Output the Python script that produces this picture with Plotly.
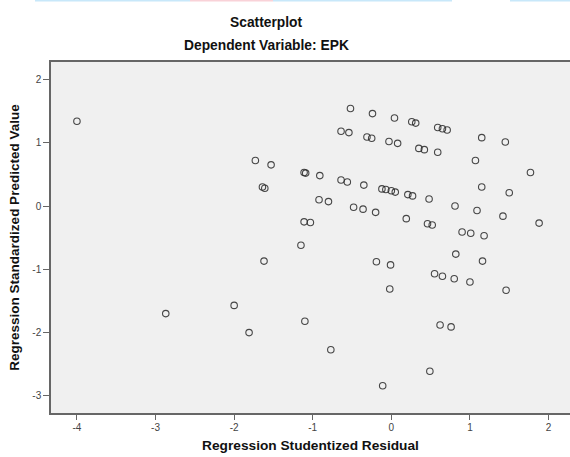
import plotly.graph_objects as go

# Data
residual = [-4.00, -0.52, -0.24, 0.04, 0.26, 0.31, 0.59, 0.65, 0.71, 1.15, 1.45,
            -0.64, -0.54, -0.31, -0.25, -0.03, 0.08, 0.35, 0.42, 0.59, 1.07,
            -1.73, -1.53, 1.77, -1.11, -1.09, -0.91, -0.64, -0.56, -0.35,
            -1.64, -1.61, 1.15, -0.12, -0.07, 0.00, 0.05, 1.50, 0.21, 0.27,
            0.48, -0.92, -0.80, 0.81, -0.48, -0.36, -0.20, 1.09, 1.42, 0.19,
            -1.11, -1.03, 0.46, 0.52, 1.88, 0.90, 1.01, 1.18, -1.15, 0.82,
            -1.62, -0.19, 1.16, -0.01, 0.55, 0.65, 0.80, 1.00, -0.02, 1.46,
            -2.00, -2.87, -1.10, 0.62, 0.76, -1.81, -0.77, 0.49, -0.11]
predicted = [1.34, 1.54, 1.46, 1.39, 1.33, 1.31, 1.24, 1.22, 1.20, 1.08, 1.01,
             1.18, 1.16, 1.09, 1.07, 1.02, 0.99, 0.91, 0.89, 0.85, 0.72,
             0.72, 0.65, 0.53, 0.53, 0.52, 0.48, 0.41, 0.38, 0.33,
             0.30, 0.28, 0.30, 0.27, 0.26, 0.24, 0.22, 0.21, 0.18, 0.16,
             0.11, 0.10, 0.07, 0.00, -0.02, -0.05, -0.10, -0.07, -0.16, -0.20,
             -0.25, -0.26, -0.28, -0.30, -0.27, -0.41, -0.43, -0.47, -0.62, -0.76,
             -0.87, -0.88, -0.87, -0.93, -1.07, -1.11, -1.15, -1.20, -1.31, -1.33,
             -1.57, -1.70, -1.82, -1.88, -1.91, -2.00, -2.27, -2.61, -2.84]

x_ticks = [-4, -3, -2, -1, 0, 1, 2]
x_tick_labels = ["-4", "-3", "-2", "-1", "0", "1", "2"]
y_ticks = [-3, -2, -1, 0, 1, 2]
y_tick_labels = ["-3", "-2", "-1", "0", "1", "2"]

FONT = "Liberation Sans, Arial, sans-serif"
AXIS_COLOR = "#666666"

fig = go.Figure()
fig.add_trace(go.Scatter(
    x=residual, y=predicted, mode="markers",
    marker=dict(symbol="circle-open", size=6.5,
                color="rgba(40,40,40,0.85)", line=dict(width=1.1)),
    hoverinfo="x+y", showlegend=False))

fig.update_layout(
    width=570, height=457,
    margin=dict(l=51, r=0, t=62, b=44),
    paper_bgcolor="white", plot_bgcolor="#f0f0f0",
    font=dict(family=FONT, color="#333333"),
    xaxis=dict(range=[-4.33, 2.273], tickvals=x_ticks, ticktext=x_tick_labels,
               showgrid=False, zeroline=False, showline=True, linecolor=AXIS_COLOR,
               linewidth=1.5, mirror=True, ticks="outside", ticklen=5,
               tickcolor=AXIS_COLOR, tickwidth=1, ticklabelstandoff=-1,
               tickfont=dict(size=10, color="#444444"),
               title=dict(text="<b>Regression Studentized Residual</b>",
                          font=dict(size=13.7, color="#111111"), standoff=9)),
    yaxis=dict(range=[-3.27, 2.275], tickvals=y_ticks, ticktext=y_tick_labels,
               showgrid=False, zeroline=False, showline=True, linecolor=AXIS_COLOR,
               linewidth=1.5, mirror=False, ticks="outside", ticklen=6,
               tickcolor=AXIS_COLOR, tickwidth=1,
               tickfont=dict(size=10, color="#444444"),
               title=dict(text="<b>Regression Standardized Predicted Value</b>",
                          font=dict(size=13.5, color="#111111"), standoff=10)),
    annotations=[
        dict(text="<b>Scatterplot</b>", xref="paper", yref="paper",
             x=(266 - 51) / 519, y=1 + (62 - 22) / 351, xanchor="center", yanchor="middle",
             showarrow=False, font=dict(size=13.8, color="#111111", family=FONT)),
        dict(text="<b>Dependent Variable: EPK</b>", xref="paper", yref="paper",
             x=(266 - 51) / 519, y=1 + (62 - 45) / 351, xanchor="center", yanchor="middle",
             showarrow=False, font=dict(size=13.8, color="#111111", family=FONT)),
    ],
)

# faint coloured strip at the very top of the screenshot (decoration)
def px_x(p):
    return (p - 51) / 519
top_y = 1 + (62 - 0.8) / 351
for x0, x1, col in [(35, 190, "#c8e8fa"), (190, 273, "#f9d2d8"),
                    (273, 452, "#c8e8fa"), (510, 570, "#c8e8fa")]:
    fig.add_shape(type="line", xref="paper", yref="paper",
                  x0=px_x(x0), x1=px_x(x1), y0=top_y, y1=top_y,
                  line=dict(color=col, width=1.5))

fig.write_html(
    "out.html",
    config={"displayModeBar": False},
    post_script="document.body.style.margin='0';document.body.style.overflow='hidden';",
)
